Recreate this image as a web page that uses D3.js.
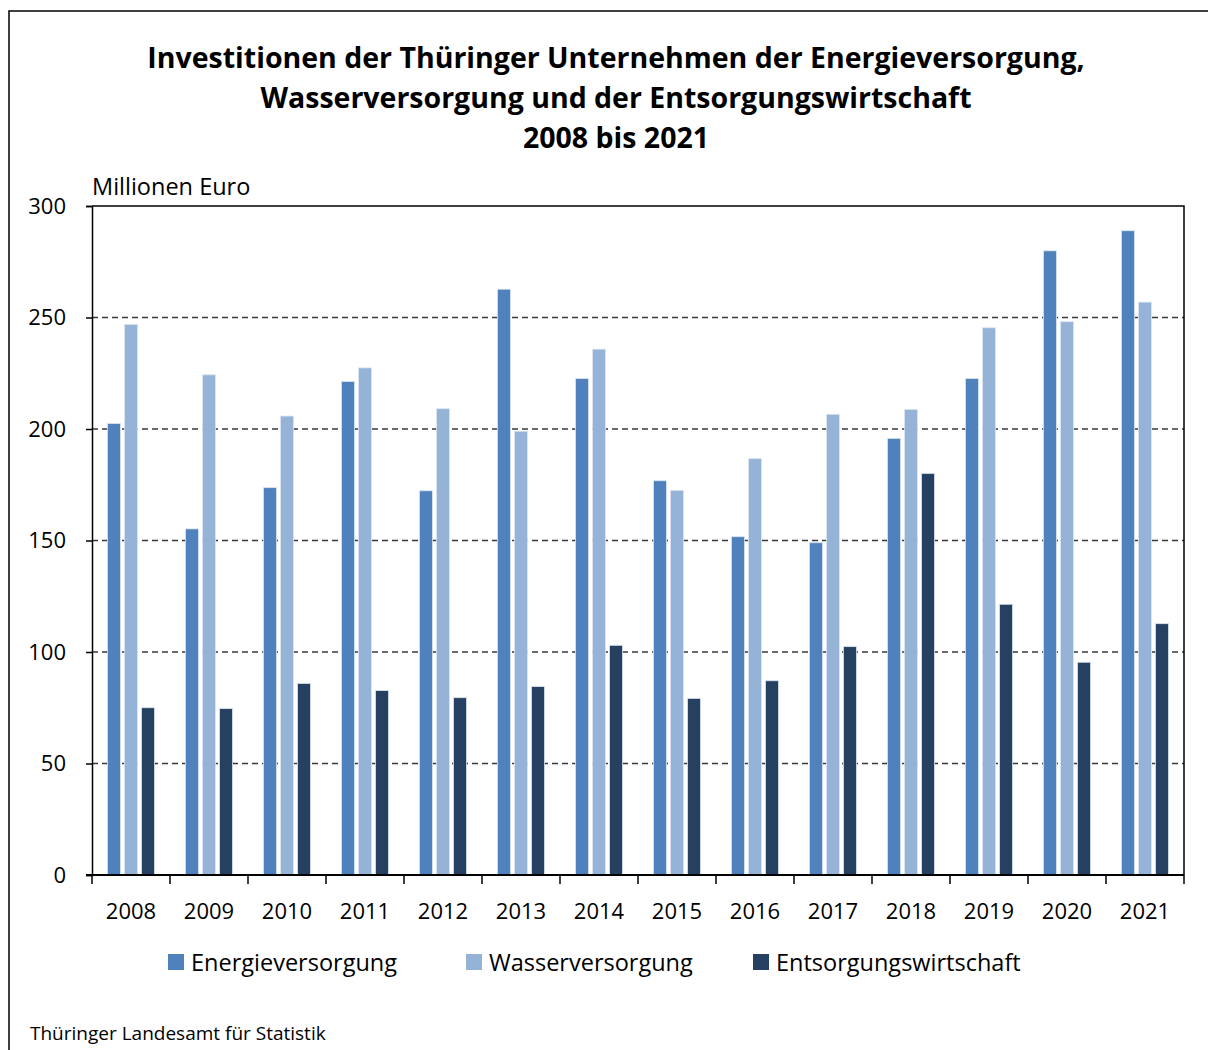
<!DOCTYPE html>
<html>
<head>
<meta charset="utf-8">
<script src="https://cdn.jsdelivr.net/npm/d3@7"></script>
<style>
  body { margin: 0; background: #fff; }
  text { font-family: "Open Sans", "Noto Sans", sans-serif; fill: #000; }
</style>
</head>
<body>
<svg id="chart" width="1208" height="1050"></svg>
<script>
const years = ["2008", "2009", "2010", "2011", "2012", "2013", "2014",
               "2015", "2016", "2017", "2018", "2019", "2020", "2021"];
const seriesNames = ["Energieversorgung", "Wasserversorgung", "Entsorgungswirtschaft"];
const energie = [202.5, 155.2, 173.7, 221.3, 172.3, 262.7, 222.6,
                 176.8, 151.7, 149.0, 195.8, 222.6, 279.9, 288.9];
const wasser = [246.9, 224.3, 205.8, 227.4, 209.1, 199.0, 235.8,
                172.5, 186.7, 206.6, 208.8, 245.4, 248.1, 256.9];
const entsorgung = [75.0, 74.6, 85.9, 82.7, 79.5, 84.5, 103.0,
                    79.2, 87.1, 102.4, 180.1, 121.4, 95.4, 112.7];
const yTicks = [0, 50, 100, 150, 200, 250, 300];
const titleLines = [
  "Investitionen der Thüringer Unternehmen der Energieversorgung,",
  "Wasserversorgung und der Entsorgungswirtschaft",
  "2008 bis 2021"
];
const colors = ["#4f81bd", "#95b3d7", "#254061"];

const svg = d3.select("#chart");
const margin = { top: 206, right: 24, bottom: 175, left: 92 };
const width = +svg.attr("width");
const height = +svg.attr("height");

const table = years.map((y, i) => ({
  year: y,
  values: [energie[i], wasser[i], entsorgung[i]]
}));

// outer frame (left + top only)
svg.append("path")
  .attr("d", `M9,${height} V11 H${width}`)
  .attr("fill", "none")
  .attr("stroke", "#000")
  .attr("stroke-width", 1.5);

// title
svg.append("g").selectAll("text")
  .data(titleLines)
  .join("text")
  .attr("x", 616)
  .attr("y", (d, i) => 68 + i * 40)
  .attr("text-anchor", "middle")
  .attr("font-size", "28.5px")
  .attr("font-weight", "bold")
  .text(d => d);

const x0 = d3.scaleBand()
  .domain(years)
  .range([margin.left, width - margin.right])
  .padding(0);

const x1 = d3.scaleBand()
  .domain([0, 1, 2])
  .range([0, x0.bandwidth()])
  .paddingInner(0.235)
  .paddingOuter(0.91);

const y = d3.scaleLinear()
  .domain([0, 300])
  .range([height - margin.bottom, margin.top]);

// gridlines
svg.append("g")
  .selectAll("line")
  .data(yTicks.filter(d => d > 0 && d < 300))
  .join("line")
  .attr("x1", margin.left)
  .attr("x2", width - margin.right)
  .attr("y1", d => y(d))
  .attr("y2", d => y(d))
  .attr("stroke", "#3a3a3a")
  .attr("stroke-width", 1.5)
  .attr("stroke-dasharray", "6,4");

// plot area border top and right
svg.append("path")
  .attr("d", `M${margin.left},${y(300)} H${width - margin.right} V${y(0)}`)
  .attr("fill", "none")
  .attr("stroke", "#000")
  .attr("stroke-width", 1.5);

// bars
svg.append("g")
  .selectAll("g")
  .data(table)
  .join("g")
  .attr("transform", d => `translate(${x0(d.year)},0)`)
  .selectAll("rect")
  .data(d => d.values.map((v, k) => ({ k, v })))
  .join("rect")
  .attr("x", d => x1(d.k))
  .attr("y", d => y(d.v))
  .attr("width", x1.bandwidth())
  .attr("height", d => y(0) - y(d.v))
  .attr("fill", d => colors[d.k])
  .attr("stroke", "#dbe5f1")
  .attr("stroke-width", 0.8);

// Y axis
const yAxis = svg.append("g")
  .attr("transform", `translate(${margin.left},0)`)
  .call(d3.axisLeft(y).tickValues(yTicks).tickSize(6).tickPadding(20));
yAxis.select(".domain").attr("stroke-width", 1.5);
yAxis.selectAll(".tick line").attr("stroke-width", 1.5);
yAxis.selectAll("text")
  .attr("font-size", "22px")
  .attr("font-family", "'Open Sans', sans-serif")
  .attr("fill", "#000");

// X axis with ticks at category boundaries
const xAxis = svg.append("g")
  .attr("transform", `translate(0,${y(0)})`);
xAxis.append("line")
  .attr("x1", margin.left - 6)
  .attr("x2", width - margin.right)
  .attr("stroke", "#000")
  .attr("stroke-width", 2);
xAxis.selectAll(".bt")
  .data(years.concat(["end"]))
  .join("line")
  .attr("class", "bt")
  .attr("x1", (d, i) => i < years.length ? x0(d) : x0.range()[1])
  .attr("x2", (d, i) => i < years.length ? x0(d) : x0.range()[1])
  .attr("y1", 0)
  .attr("y2", 9)
  .attr("stroke", "#000")
  .attr("stroke-width", 1.5);
xAxis.selectAll("text")
  .data(years)
  .join("text")
  .attr("x", d => x0(d) + x0.bandwidth() / 2)
  .attr("y", 44)
  .attr("text-anchor", "middle")
  .attr("font-size", "22px")
  .text(d => d);

// unit label
svg.append("text")
  .attr("x", 92)
  .attr("y", 195)
  .attr("font-size", "23.5px")
  .text("Millionen Euro");

// legend
const legendX = [168, 466, 753];
const legend = svg.append("g").selectAll("g")
  .data(seriesNames)
  .join("g")
  .attr("transform", (d, i) => `translate(${legendX[i]},954)`);
legend.append("rect")
  .attr("width", 16)
  .attr("height", 16)
  .attr("fill", (d, i) => colors[i]);
legend.append("text")
  .attr("x", 23)
  .attr("y", 17)
  .attr("font-size", "23.5px")
  .text(d => d);

// source
svg.append("text")
  .attr("x", 30)
  .attr("y", 1040)
  .attr("font-size", "19px")
  .text("Thüringer Landesamt für Statistik");
</script>
</body>
</html>
